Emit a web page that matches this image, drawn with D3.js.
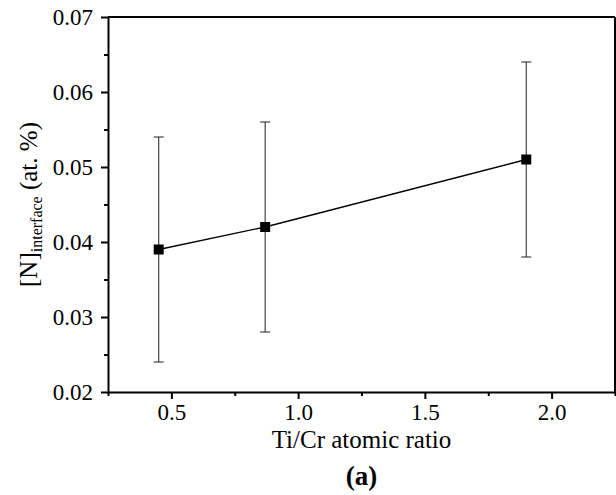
<!DOCTYPE html>
<html>
<head>
<meta charset="utf-8">
<script src="https://cdn.jsdelivr.net/npm/d3@7"></script>
<style>
  body { margin: 0; background: #fff; }
  svg { display: block; font-family: "Liberation Serif", "Times New Roman", serif; }
</style>
</head>
<body>
<div id="chart"></div>
<script>
// data
const ratio = [0.45, 0.87, 1.90];
const nInterface = [0.039, 0.042, 0.051];
const errLow = [0.024, 0.028, 0.038];
const errHigh = [0.054, 0.056, 0.064];
const xTicks = [0.5, 1.0, 1.5, 2.0];
const yTicks = [0.02, 0.03, 0.04, 0.05, 0.06, 0.07];
const xMinor = [0.25, 0.75, 1.25, 1.75, 2.25];
const yMinor = [0.025, 0.035, 0.045, 0.055, 0.065];

const width = 616, height = 495;
const marginTop = 17, marginRight = 1, marginBottom = 103, marginLeft = 108;
const serif = "'Liberation Serif', 'Times New Roman', serif";

const svg = d3.select("#chart").append("svg")
    .attr("width", width)
    .attr("height", height);

const x = d3.scaleLinear().domain([0.25, 2.25]).range([marginLeft, width - marginRight]);
const y = d3.scaleLinear().domain([0.02, 0.07]).range([height - marginBottom, marginTop]);

function styleAxis(g) {
  g.select(".domain").attr("stroke-width", 2);
  g.selectAll("line").attr("stroke-width", 2);
  g.selectAll("text")
      .style("font-family", serif)
      .style("font-size", "23px")
      .attr("fill", "#000");
}

// minor ticks (no labels)
svg.append("g")
    .attr("transform", `translate(0,${y(0.02)})`)
    .call(d3.axisBottom(x).tickValues(xMinor).tickSize(4).tickFormat(() => ""))
    .call(g => g.select(".domain").remove())
    .call(g => g.selectAll("line").attr("stroke-width", 2));

svg.append("g")
    .attr("transform", `translate(${x(0.25)},0)`)
    .call(d3.axisLeft(y).tickValues(yMinor).tickSize(4).tickFormat(() => ""))
    .call(g => g.select(".domain").remove())
    .call(g => g.selectAll("line").attr("stroke-width", 2));

// x axis
svg.append("g")
    .attr("transform", `translate(0,${y(0.02)})`)
    .call(d3.axisBottom(x).tickValues(xTicks).tickSize(7).tickSizeOuter(0).tickPadding(5).tickFormat(d3.format(".1f")))
    .call(styleAxis);

// y axis
svg.append("g")
    .attr("transform", `translate(${x(0.25)},0)`)
    .call(d3.axisLeft(y).tickValues(yTicks).tickSize(7).tickSizeOuter(0).tickPadding(8).tickFormat(d3.format(".2f")))
    .call(styleAxis);

// top and right frame
svg.append("line")
    .attr("x1", x(0.25)).attr("x2", x(2.25))
    .attr("y1", y(0.07)).attr("y2", y(0.07))
    .attr("stroke", "#000").attr("stroke-width", 2);
svg.append("line")
    .attr("x1", x(2.25)).attr("x2", x(2.25))
    .attr("y1", y(0.07)).attr("y2", y(0.02))
    .attr("stroke", "#000").attr("stroke-width", 2);

const pts = ratio.map((r, i) => ({ r, v: nInterface[i], lo: errLow[i], hi: errHigh[i] }));

// error bars
const eb = svg.append("g").attr("stroke", "#333").attr("stroke-width", 1.1);
eb.selectAll(".stem").data(pts).join("line")
    .attr("x1", d => x(d.r)).attr("x2", d => x(d.r))
    .attr("y1", d => y(d.lo)).attr("y2", d => y(d.hi));
eb.selectAll(".cap-hi").data(pts).join("line")
    .attr("x1", d => x(d.r) - 5).attr("x2", d => x(d.r) + 5)
    .attr("y1", d => y(d.hi)).attr("y2", d => y(d.hi));
eb.selectAll(".cap-lo").data(pts).join("line")
    .attr("x1", d => x(d.r) - 5).attr("x2", d => x(d.r) + 5)
    .attr("y1", d => y(d.lo)).attr("y2", d => y(d.lo));

// connecting line
svg.append("path")
    .datum(pts)
    .attr("fill", "none")
    .attr("stroke", "#000")
    .attr("stroke-width", 1.3)
    .attr("d", d3.line().x(d => x(d.r)).y(d => y(d.v)));

// square markers
svg.append("g").selectAll("rect").data(pts).join("rect")
    .attr("x", d => x(d.r) - 5)
    .attr("y", d => y(d.v) - 5)
    .attr("width", 10).attr("height", 10)
    .attr("fill", "#000");

// axis titles
svg.append("text")
    .attr("x", x(1.25))
    .attr("y", 448)
    .attr("text-anchor", "middle")
    .style("font-size", "25px")
    .text("Ti/Cr atomic ratio");

svg.append("text")
    .attr("x", x(1.25))
    .attr("y", 485)
    .attr("text-anchor", "middle")
    .style("font-size", "27px")
    .attr("font-weight", "bold")
    .text("(a)");

const yl = svg.append("text")
    .attr("transform", `translate(37,${y(0.045)}) rotate(-90)`)
    .attr("text-anchor", "middle")
    .style("font-size", "25px");
yl.append("tspan").text("[N]");
yl.append("tspan").style("font-size", "16px").attr("dy", 5).text("interface");
yl.append("tspan").attr("dy", -5).text(" (at. %)");
</script>
</body>
</html>
